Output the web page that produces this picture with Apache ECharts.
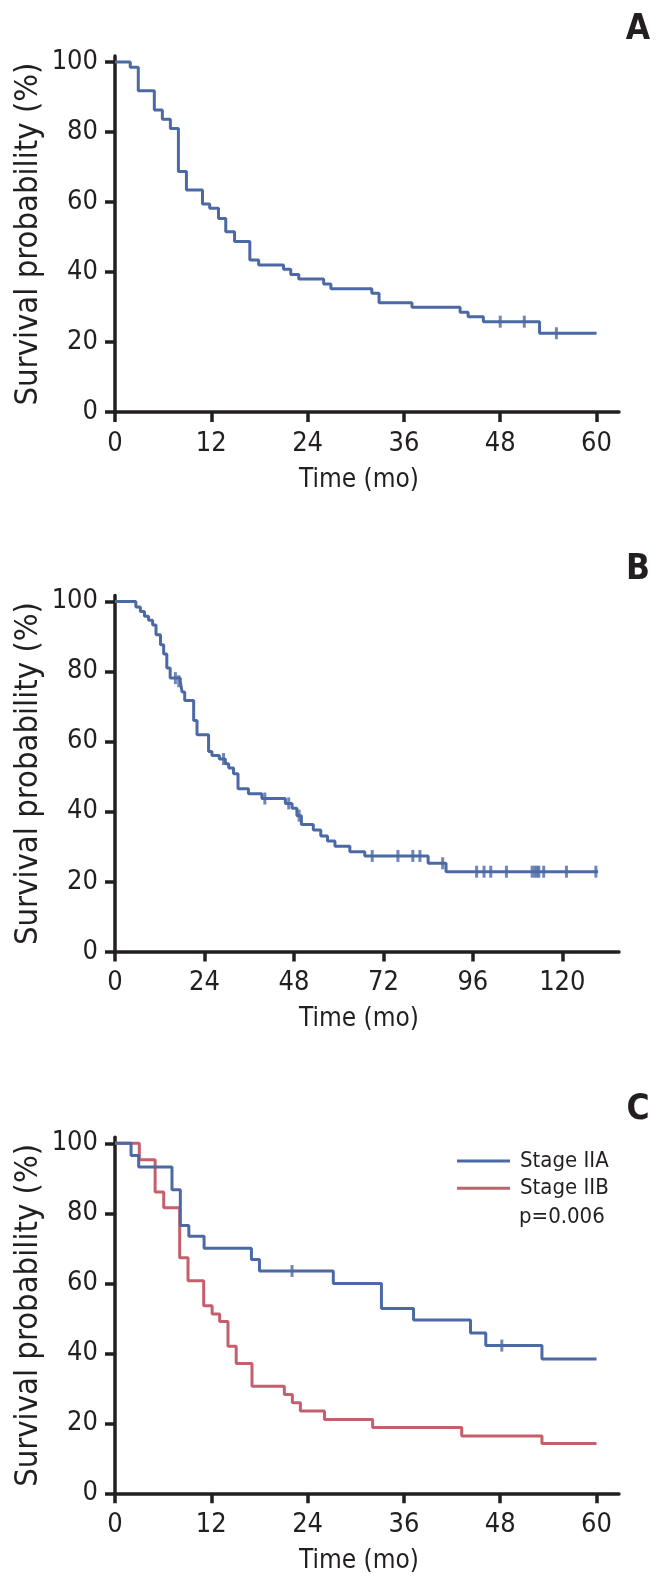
<!DOCTYPE html>
<html>
<head>
<meta charset="utf-8">
<script src="https://cdn.jsdelivr.net/npm/echarts@6/dist/echarts.min.js"></script>
<style>
html,body{margin:0;padding:0;background:#fff;}
#main{width:665px;height:1590px;}
</style>
</head>
<body>
<div id="main"></div>
<script>
// ---------- Data ----------
// Panel A
const timesA = [0, 1.9, 2.9, 4.9, 5.9, 6.9, 7.9, 8.9, 10.9, 11.8, 12.9, 13.8, 14.9, 16.8, 17.9, 21.0, 21.9, 22.9, 26.0, 26.9, 32.0, 32.9, 37.0, 43.0, 44.0, 45.9, 52.9, 60];
const survA  = [100, 98.5, 91.8, 86.3, 83.6, 81.0, 68.7, 63.4, 59.4, 58.2, 55.3, 51.5, 48.7, 43.4, 42.0, 40.8, 39.3, 38.0, 36.6, 35.2, 33.9, 31.2, 29.9, 28.5, 27.2, 25.8, 22.5, 22.5];
const censorTimesA = [48.0, 51.0, 55.0];
const censorSurvA  = [25.8, 25.8, 22.5];

// Panel B
const timesB = [0, 5.6, 6.8, 7.9, 9.0, 10.1, 11.0, 12.2, 13.05, 13.9, 14.8, 17.5, 18.0, 18.7, 21.1, 22.0, 25.1, 26.0, 28.0, 29.6, 30.5, 31.8, 33.0, 35.8, 39.4, 45.7, 47.5, 48.8, 50.0, 53.2, 55.2, 57.0, 59.0, 63.0, 67.0, 84.0, 88.8, 129.6];
const survB  = [100, 98.4, 97.1, 95.8, 94.6, 93.3, 90.5, 87.6, 85.0, 81.0, 78.1, 77.2, 74.1, 71.7, 66.0, 61.9, 57.1, 56.0, 55.0, 53.6, 52.4, 50.8, 46.5, 45.1, 43.7, 42.3, 40.9, 38.8, 36.3, 34.7, 33.0, 31.6, 30.1, 28.5, 27.3, 25.2, 22.8, 22.8];
const censorTimesB = [16.2, 17.1, 29.1, 40.2, 46.6, 49.4, 69.0, 75.9, 79.9, 81.8, 87.9, 97.0, 99.0, 100.8, 105.0, 111.9, 112.6, 113.2, 113.7, 115.0, 121.1, 129.0];
const censorSurvB  = [78.1, 77.2, 55.0, 43.7, 42.3, 38.8, 27.3, 27.3, 27.3, 27.3, 25.2, 22.8, 22.8, 22.8, 22.8, 22.8, 22.8, 22.8, 22.8, 22.8, 22.8, 22.8];

// Panel C
const timesIIA = [0, 2.0, 2.95, 7.1, 8.14, 9.2, 11.1, 17.0, 18.0, 27.2, 33.2, 37.2, 44.3, 46.2, 53.2, 60];
const survIIA  = [100, 96.5, 93.2, 86.7, 76.5, 73.4, 70.0, 66.8, 63.5, 59.9, 52.8, 49.5, 45.8, 42.2, 38.4, 38.4];
const censorTimesIIA = [22.06, 48.2];
const censorSurvIIA  = [63.5, 42.2];
const timesIIB = [0, 3.03, 5.0, 6.07, 8.06, 9.1, 11.05, 12.1, 13.04, 14.08, 15.1, 17.07, 21.1, 22.1, 23.1, 26.1, 32.1, 43.2, 53.2, 60];
const survIIB  = [100, 95.3, 86.1, 81.6, 67.3, 60.7, 53.6, 51.2, 49.1, 42.0, 37.1, 30.6, 28.2, 25.9, 23.5, 21.1, 18.8, 16.4, 14.2, 14.2];

const seriesNames = ['Stage IIA', 'Stage IIB'];
const pValueText = 'p=0.006';
const panelLetters = ['A', 'B', 'C'];
const yTicks = [0, 20, 40, 60, 80, 100];
const xTicks60 = [0, 12, 24, 36, 48, 60];
const xTicks120 = [0, 24, 48, 72, 96, 120];
const yTitle = 'Survival probability (%)';
const xTitle = 'Time (mo)';

// ---------- Styles ----------
const INK = '#231f20';
const BLUE = '#4b69a5';
const RED = '#c65f6c';
const NARROW = "'Liberation Sans Narrow','Arial Narrow','DejaVu Sans Condensed',sans-serif";

function zip(a, b) { return a.map((v, i) => [v, b[i]]); }

const grids = [
  { left: 115, width: 504, top: 56, height: 356 },
  { left: 115, width: 504, top: 595.5, height: 356 },
  { left: 115, width: 504, top: 1137.3, height: 356 }
].map(g => Object.assign({ containLabel: false, outerBoundsMode: 'none' }, g));

function xAxis(idx, max, ticks) {
  return {
    type: 'value', gridIndex: idx, min: 0, max: max,
    name: xTitle, nameLocation: 'middle', nameGap: 55,
    nameTextStyle: { fontSize: 26, fontFamily: NARROW, color: INK, padding: [0, 16, 0, 0] },
    axisLine: { show: true, onZero: false, lineStyle: { color: INK, width: 3.5 } },
    axisTick: { show: true, length: 10, customValues: ticks, lineStyle: { color: INK, width: 3.5 } },
    axisLabel: { customValues: ticks, fontSize: 27, fontFamily: NARROW, color: INK, margin: 18 },
    splitLine: { show: false }
  };
}
function yAxis(idx) {
  return {
    type: 'value', gridIndex: idx, min: 0, max: 101.7,
    name: yTitle, nameLocation: 'middle', nameGap: 70, nameRotate: 90, nameMoveOverlap: false,
    nameTextStyle: { fontSize: 32.5, fontFamily: NARROW, color: INK },
    axisLine: { show: true, onZero: false, lineStyle: { color: INK, width: 3.5 } },
    axisTick: { show: true, length: 10, customValues: yTicks, lineStyle: { color: INK, width: 3.5 } },
    axisLabel: { customValues: yTicks, fontSize: 27, fontFamily: NARROW, color: INK, margin: 17 },
    splitLine: { show: false }
  };
}
function stepLine(name, idx, times, surv, color, z) {
  return {
    name: name, type: 'line', step: 'end', xAxisIndex: idx, yAxisIndex: idx,
    data: zip(times, surv), showSymbol: false, symbol: 'none', z: z,
    lineStyle: { color: color, width: 3 }, itemStyle: { color: color },
    animation: false, silent: true
  };
}
function censors(idx, times, surv, color, z) {
  return {
    type: 'scatter', xAxisIndex: idx, yAxisIndex: idx,
    data: zip(times, surv), symbol: 'rect', symbolSize: [3, 12], z: z,
    itemStyle: { color: color }, animation: false, silent: true
  };
}

const letterPos = [[638, 30], [638, 570], [638, 1110]];

const option = {
  backgroundColor: '#ffffff',
  animation: false,
  grid: grids,
  xAxis: [xAxis(0, 62.8, xTicks60), xAxis(1, 135.2, xTicks120), xAxis(2, 62.8, xTicks60)],
  yAxis: [yAxis(0), yAxis(1), yAxis(2)],
  legend: {
    data: seriesNames, orient: 'vertical', left: 452, top: 1145,
    itemWidth: 53, itemHeight: 3, icon: 'rect', itemGap: 5.3, selectedMode: false,
    textStyle: { fontSize: 22, lineHeight: 22, fontFamily: NARROW, color: INK, padding: [0, 0, 0, 5] }
  },
  graphic: panelLetters.map((t, i) => ({
    type: 'text', x: letterPos[i][0], y: letterPos[i][1],
    style: { text: t, fontSize: 35, fontWeight: 'bold', fontFamily: NARROW, fill: INK, align: 'center', verticalAlign: 'middle' }
  })).concat([{
    type: 'text', x: 519, y: 1217,
    style: { text: pValueText, fontSize: 22, fontFamily: NARROW, fill: INK, align: 'left', verticalAlign: 'middle' }
  }]),
  series: [
    stepLine('A', 0, timesA, survA, BLUE, 2),
    censors(0, censorTimesA, censorSurvA, BLUE, 3),
    stepLine('B', 1, timesB, survB, BLUE, 2),
    censors(1, censorTimesB, censorSurvB, BLUE, 3),
    stepLine(seriesNames[1], 2, timesIIB, survIIB, RED, 2),
    stepLine(seriesNames[0], 2, timesIIA, survIIA, BLUE, 3),
    censors(2, censorTimesIIA, censorSurvIIA, BLUE, 4)
  ]
};

const chart = echarts.init(document.getElementById('main'), null, { renderer: 'canvas', width: 665, height: 1590 });
chart.setOption(option);
</script>
</body>
</html>
